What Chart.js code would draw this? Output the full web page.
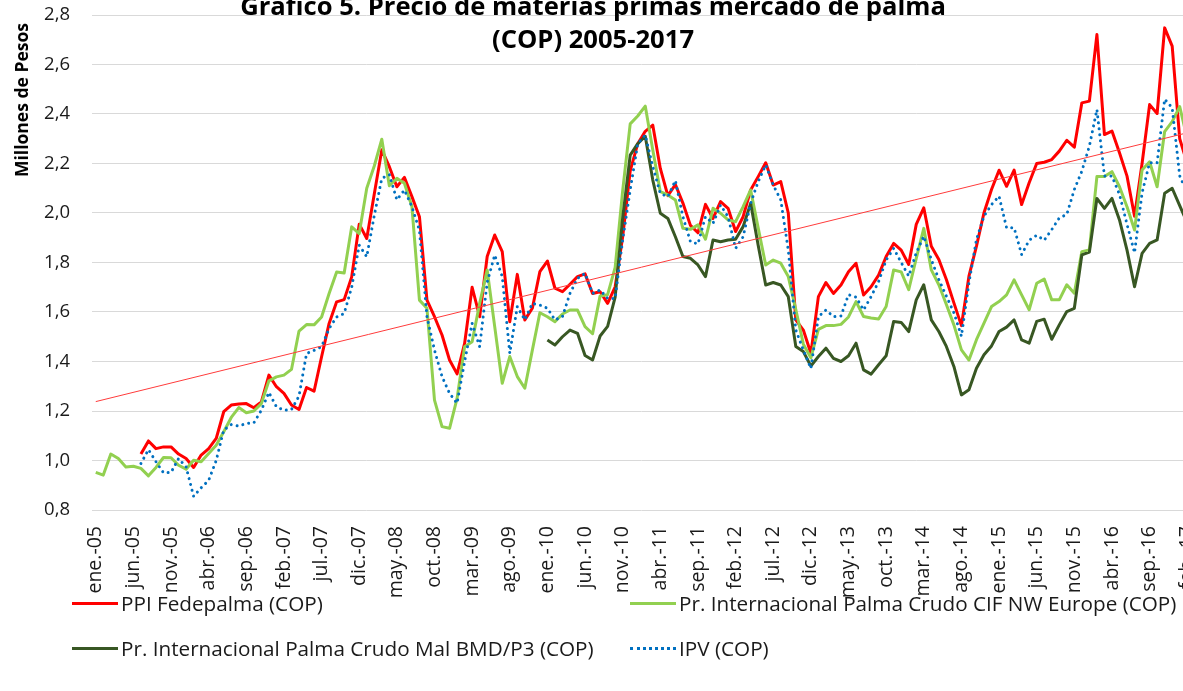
<!DOCTYPE html>
<html lang="es">
<head>
<meta charset="UTF-8">
<title>Gráfico 5. Precio de materias primas mercado de palma (COP) 2005-2017</title>
<script src="https://cdn.jsdelivr.net/npm/chart.js"></script>
<style>
  html, body { margin: 0; padding: 0; background: #fff; overflow: hidden; }
  body { width: 1183px; height: 691px; position: relative; font-family: "Open Sans", sans-serif; color: #1a1a1a; }
  #chart { position: absolute; left: 0; top: 0; }
  .title { position: absolute; left: 0; top: -11px; width: 1186px; text-align: center;
           font-weight: 700; font-size: 25.6px; line-height: 33px; color: #000; }
  .ytitle { position: absolute; left: 21px; top: 100px; transform: translate(-50%, -50%) rotate(-90deg);
            font-weight: 700; font-size: 17.5px; white-space: nowrap; color: #000; }
  .item { position: absolute; display: flex; align-items: center; white-space: nowrap;
          font-size: 20.7px; line-height: 26px; }
  .swatch { width: 46px; height: 0; border-top: 3px solid; margin-right: 3px; }
</style>
</head>
<body>
  <canvas id="chart" width="1200" height="691"></canvas>

  <div class="title">Gráfico 5. Precio de materias primas mercado de palma<br>(COP) 2005-2017</div>
  <div class="ytitle">Millones de Pesos</div>

  <div class="item" style="left:72px; top:590px;"><span class="swatch" style="border-color:#FF0000"></span>PPI Fedepalma (COP)</div>
  <div class="item" style="left:630px; top:590px;"><span class="swatch" style="border-color:#92D050"></span>Pr. Internacional Palma Crudo CIF NW Europe (COP)</div>
  <div class="item" style="left:72px; top:635px;"><span class="swatch" style="border-color:#385723"></span>Pr. Internacional Palma Crudo Mal BMD/P3 (COP)</div>
  <div class="item" style="left:630px; top:635px;"><span class="swatch" style="border-color:#0070C0; border-top-style:dotted"></span>IPV (COP)</div>

<script>
  // months ene-05 .. feb-17
  const monthNames = ["ene.", "feb.", "mar.", "abr.", "may.", "jun.", "jul.", "ago.", "sep.", "oct.", "nov.", "dic."];
  const years = ["05", "06", "07", "08", "09", "10", "11", "12", "13", "14", "15", "16", "17"];
  const lastMonthOf2017 = 1; // feb.
  const categories = [];
  years.forEach((yy, k) => {
    monthNames.forEach((m, j) => {
      if (k < years.length - 1 || j <= lastMonthOf2017) categories.push(m + "-" + yy);
    });
  });
  const tickEvery = 5;

  // PPI Fedepalma (COP), millones de pesos
  const ppi = [
    null, null, null, null, null, null, 1.026, 1.079, 1.048, 1.055, 1.055, 1.026,
    1.008, 0.972, 1.022, 1.048, 1.089, 1.197, 1.224, 1.228, 1.230, 1.213, 1.237, 1.345,
    1.298, 1.271, 1.224, 1.206, 1.295, 1.280, 1.419, 1.554, 1.641, 1.650, 1.742, 1.955,
    1.897, 2.077, 2.255, 2.187, 2.106, 2.144, 2.066, 1.985, 1.648, 1.581, 1.507, 1.406,
    1.350, 1.473, 1.700, 1.581, 1.824, 1.911, 1.844, 1.561, 1.752, 1.568, 1.615, 1.763,
    1.806, 1.696, 1.682, 1.712, 1.743, 1.754, 1.675, 1.682, 1.635, 1.702, 1.904, 2.170,
    2.280, 2.330, 2.355, 2.180, 2.070, 2.115, 2.040, 1.950, 1.920, 2.035, 1.978, 2.046,
    2.019, 1.925, 1.985, 2.093, 2.147, 2.203, 2.113, 2.127, 2.000, 1.568, 1.527, 1.433,
    1.662, 1.719, 1.675, 1.709, 1.763, 1.797, 1.669, 1.702, 1.749, 1.824, 1.877, 1.850,
    1.792, 1.954, 2.021, 1.866, 1.812, 1.731, 1.637, 1.545, 1.745, 1.866, 2.001, 2.095,
    2.173, 2.108, 2.173, 2.034, 2.122, 2.200, 2.205, 2.216, 2.250, 2.294, 2.266, 2.445,
    2.452, 2.721, 2.317, 2.331, 2.243, 2.149, 1.987, 2.200, 2.438, 2.402, 2.748, 2.674,
    2.300, 2.200
  ];

  // Pr. Internacional Palma Crudo CIF NW Europe (COP)
  const cifEurope = [
    0.952, 0.941, 1.026, 1.008, 0.974, 0.977, 0.968, 0.938, 0.972, 1.012, 1.011, 0.981,
    0.965, 1.001, 0.995, 1.028, 1.062, 1.116, 1.174, 1.214, 1.193, 1.200, 1.230, 1.322,
    1.338, 1.345, 1.368, 1.523, 1.549, 1.548, 1.580, 1.675, 1.762, 1.758, 1.944, 1.917,
    2.100, 2.190, 2.298, 2.110, 2.140, 2.120, 2.026, 1.648, 1.615, 1.244, 1.137, 1.130,
    1.251, 1.460, 1.480, 1.635, 1.770, 1.541, 1.312, 1.420, 1.339, 1.292, 1.446, 1.597,
    1.581, 1.561, 1.592, 1.608, 1.608, 1.541, 1.512, 1.665, 1.670, 1.780, 2.090, 2.360,
    2.392, 2.432, 2.255, 2.086, 2.073, 2.053, 1.938, 1.934, 1.952, 1.894, 2.019, 1.999,
    1.972, 1.965, 2.026, 2.093, 1.940, 1.790, 1.810, 1.797, 1.743, 1.610, 1.470, 1.415,
    1.530, 1.545, 1.545, 1.550, 1.580, 1.642, 1.582, 1.576, 1.572, 1.622, 1.770, 1.762,
    1.690, 1.817, 1.938, 1.770, 1.710, 1.630, 1.548, 1.447, 1.406, 1.488, 1.555, 1.622,
    1.642, 1.669, 1.730, 1.669, 1.609, 1.716, 1.733, 1.649, 1.649, 1.710, 1.676, 1.844,
    1.851, 2.147, 2.147, 2.167, 2.106, 2.025, 1.931, 2.174, 2.207, 2.106, 2.329, 2.369,
    2.430, 2.300
  ];

  // Pr. Internacional Palma Crudo Mal BMD/P3 (COP), desde ene-10
  const bmdP3 = [
    null, null, null, null, null, null, null, null, null, null, null, null,
    null, null, null, null, null, null, null, null, null, null, null, null,
    null, null, null, null, null, null, null, null, null, null, null, null,
    null, null, null, null, null, null, null, null, null, null, null, null,
    null, null, null, null, null, null, null, null, null, null, null, null,
    1.487, 1.467, 1.500, 1.527, 1.514, 1.424, 1.406, 1.503, 1.542, 1.660, 1.980, 2.234,
    2.280, 2.310, 2.133, 1.999, 1.978, 1.904, 1.824, 1.817, 1.790, 1.743, 1.891, 1.884,
    1.891, 1.894, 1.945, 2.039, 1.870, 1.709, 1.719, 1.709, 1.662, 1.461, 1.440, 1.382,
    1.420, 1.454, 1.413, 1.400, 1.423, 1.474, 1.366, 1.349, 1.387, 1.423, 1.562, 1.558,
    1.521, 1.649, 1.710, 1.568, 1.521, 1.461, 1.380, 1.265, 1.286, 1.373, 1.427, 1.463,
    1.521, 1.539, 1.568, 1.487, 1.474, 1.562, 1.571, 1.490, 1.548, 1.602, 1.615, 1.831,
    1.842, 2.059, 2.019, 2.059, 1.972, 1.850, 1.702, 1.837, 1.877, 1.891, 2.080, 2.100,
    2.030, 1.960
  ];

  // IPV (COP)
  const ipv = [
    null, null, null, null, null, null, 0.988, 1.044, 0.995, 0.950, 0.952, 1.008,
    0.974, 0.855, 0.890, 0.920, 1.000, 1.123, 1.145, 1.139, 1.150, 1.152, 1.203, 1.275,
    1.217, 1.203, 1.206, 1.260, 1.432, 1.445, 1.460, 1.533, 1.580, 1.594, 1.700, 1.870,
    1.823, 1.990, 2.140, 2.155, 2.053, 2.093, 2.026, 1.930, 1.581, 1.446, 1.339, 1.271,
    1.231, 1.400, 1.554, 1.460, 1.720, 1.830, 1.743, 1.433, 1.622, 1.568, 1.635, 1.628,
    1.615, 1.568, 1.581, 1.675, 1.736, 1.756, 1.675, 1.689, 1.655, 1.655, 1.891, 2.093,
    2.280, 2.315, 2.187, 2.079, 2.066, 2.131, 1.985, 1.884, 1.875, 1.985, 1.958, 2.032,
    1.985, 1.857, 1.904, 2.039, 2.127, 2.194, 2.113, 2.053, 1.850, 1.527, 1.446, 1.372,
    1.581, 1.608, 1.581, 1.584, 1.670, 1.660, 1.608, 1.662, 1.723, 1.810, 1.857, 1.800,
    1.745, 1.839, 1.906, 1.812, 1.731, 1.664, 1.597, 1.502, 1.718, 1.893, 1.987, 2.034,
    2.068, 1.940, 1.940, 1.832, 1.890, 1.910, 1.890, 1.933, 1.980, 1.994, 2.095, 2.169,
    2.270, 2.418, 2.149, 2.149, 2.075, 1.954, 1.839, 2.081, 2.203, 2.203, 2.460, 2.425,
    2.150, 2.080
  ];

  // linear trend of the PPI: value at the first and the last month
  const trendStart = 1.238;
  const trendEnd = 2.324;

  const yTicks = { min: 0.8, max: 2.8, step: 0.2 };

  const trend = categories.map((_, i) =>
    i === 0 ? trendStart : (i === categories.length - 1 ? trendEnd : null));

  const textColor = "#1a1a1a";
  const fontFamily = "'Open Sans', sans-serif";

  new Chart(document.getElementById("chart"), {
    type: "line",
    data: {
      labels: categories,
      datasets: [
        { label: "PPI Fedepalma (COP)", data: ppi, borderColor: "#FF0000", borderWidth: 3, order: 4 },
        { label: "Pr. Internacional Palma Crudo CIF NW Europe (COP)", data: cifEurope, borderColor: "#92D050", borderWidth: 3, order: 3 },
        { label: "Pr. Internacional Palma Crudo Mal BMD/P3 (COP)", data: bmdP3, borderColor: "#385723", borderWidth: 3, order: 2 },
        { label: "IPV (COP)", data: ipv, borderColor: "#0070C0", borderWidth: 3,
          borderDash: [0.01, 6], borderCapStyle: "round", order: 1 },
        { label: "Lineal (PPI Fedepalma (COP))", data: trend, borderColor: "#FF3b3b", borderWidth: 1,
          spanGaps: true, order: 0 }
      ]
    },
    options: {
      responsive: false,
      animation: false,
      devicePixelRatio: 1,
      layout: { padding: { left: 0, right: 9, top: 15, bottom: 0 } },
      elements: {
        point: { radius: 0 },
        line: { tension: 0, borderJoinStyle: "round", fill: false }
      },
      plugins: {
        legend: { display: false },
        tooltip: { enabled: false }
      },
      scales: {
        x: {
          offset: true,
          grid: { display: false },
          border: { display: false },
          ticks: {
            autoSkip: false,
            minRotation: 90,
            maxRotation: 90,
            padding: 8,
            color: textColor,
            font: { family: fontFamily, size: 19.5 },
            callback: (value, index) => (index % tickEvery === 0 ? categories[index] : null)
          },
          afterFit: (scale) => { scale.height = 181; scale.paddingLeft = 0; scale.paddingRight = 0; }
        },
        y: {
          min: yTicks.min,
          max: yTicks.max,
          grid: { color: "#d9d9d9", lineWidth: 1, drawTicks: false },
          border: { display: false },
          ticks: {
            stepSize: yTicks.step,
            padding: 22,
            color: textColor,
            font: { family: fontFamily, size: 18.5 },
            callback: (value) => value.toFixed(1).replace(".", ",")
          },
          afterFit: (scale) => { scale.width = 92; scale.paddingTop = 0; scale.paddingBottom = 0; }
        }
      }
    }
  });
</script>
</body>
</html>
